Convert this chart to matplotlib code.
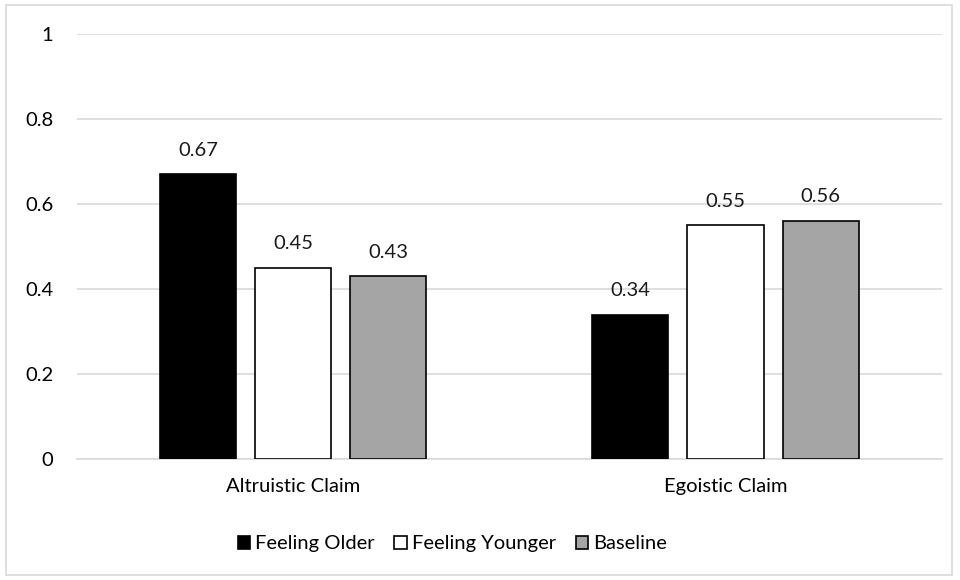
import matplotlib.pyplot as plt
import numpy as np
from matplotlib.patches import Rectangle

categories = ['Altruistic Claim', 'Egoistic Claim']
series = ['Feeling Older', 'Feeling Younger', 'Baseline']
feeling_older = [0.67, 0.34]
feeling_younger = [0.45, 0.55]
baseline = [0.43, 0.56]
y_ticks = [0, 0.2, 0.4, 0.6, 0.8, 1]
y_tick_labels = ['0', '0.2', '0.4', '0.6', '0.8', '1']

plt.rcParams['font.family'] = ['Lato', 'DejaVu Sans']
fs = 14.5

fig = plt.figure(figsize=(9.6, 5.8), dpi=100)
ax = fig.add_axes([0.080, 0.2086, 0.901, 0.7324])

# cadre gris autour de la figure
fig.patches.append(Rectangle((0.006, 0.009), 0.986, 0.982, transform=fig.transFigure,
                             fill=False, edgecolor='#D9D9D9', linewidth=1.2))

x = np.arange(len(categories))
w = 0.176
step = 0.22
colors = ['black', 'white', '#A5A5A5']
for i, (vals, name) in enumerate(zip([feeling_older, feeling_younger, baseline], series)):
    bars = ax.bar(x + (i - 1) * step, vals, w, color=colors[i], edgecolor='black',
                  linewidth=1.2, label=name, zorder=3)
    for b, v in zip(bars, vals):
        ax.text(b.get_x() + b.get_width() / 2, v + 0.037, f'{v:.2f}', ha='center',
                va='bottom', fontsize=fs, color='#1a1a1a')

ax.set_xlim(-0.5, 1.5)
ax.set_ylim(0, 1)
ax.set_yticks(y_ticks)
ax.set_yticklabels(y_tick_labels, fontsize=fs)
ax.set_xticks(x)
ax.set_xticklabels(categories, fontsize=fs)
ax.tick_params(length=0, pad=14)
ax.tick_params(axis='y', pad=17)
ax.yaxis.grid(True, color='#D9D9D9', linewidth=1.2, zorder=0)
for s in ['top', 'right', 'left']:
    ax.spines[s].set_visible(False)
ax.spines['bottom'].set_color('#D9D9D9')
ax.spines['bottom'].set_linewidth(1.2)

ax.legend(loc='center', bbox_to_anchor=(0.434, -0.2), ncol=3, frameon=False,
          fontsize=fs, handlelength=0.6, handleheight=0.6, handletextpad=0.25,
          columnspacing=1.0)

plt.savefig('out.png', dpi=100)
